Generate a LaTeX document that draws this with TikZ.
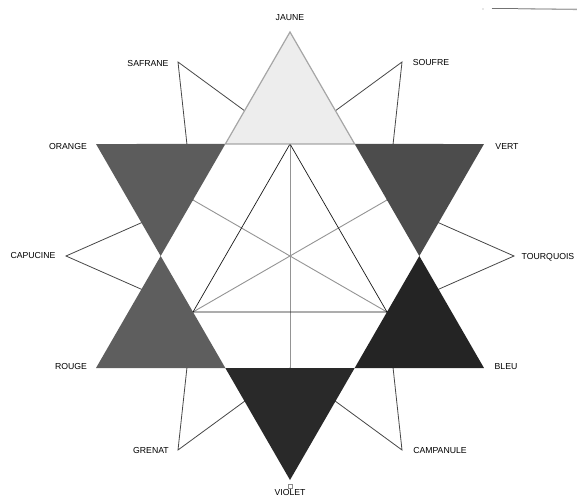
\documentclass[tikz,border=0pt]{standalone}
\usepackage{fontspec}
\setmainfont{Liberation Sans}
\begin{document}
\begin{tikzpicture}[x=1pt,y=1pt,
  lbl/.style={font=\fontsize{8.7}{9}\selectfont, inner sep=0pt, text=black},
  spoke/.style={draw=black!72, line width=0.8pt},
  median/.style={draw=black!42, line width=0.9pt},
  inner/.style={draw=black!90, line width=0.7pt},
  tri/.style={draw=none}
]
\useasboundingbox[fill=white] (-290,-242) rectangle (287,256);
% key points
\def\RR{224}
\def\rr{112}
\def\hh{129.33}
\foreach \n/\a in {tJ/90,tV/30,tO/150,tR/210,tVi/270,tB/330}
  \coordinate (\n) at (\a:\RR);
\foreach \n/\a in {h0/0,h60/60,h120/120,h180/180,h240/240,h300/300}
  \coordinate (\n) at (\a:\hh);
\foreach \n/\a in {pTu/0,pSo/60,pSa/120,pCa/180,pGr/240,pCm/300}
  \coordinate (\n) at (\a:\RR);
\foreach \n/\a in {Y/90,G/30,O/150,R/210,Vp/270,Bp/330}
  \coordinate (\n) at (\a:\rr);
\coordinate (ctr) at (0,0);
% spokes from intermediate colours
\draw[spoke] (Y) -- (pSa) -- (O);
\draw[spoke] (Y) -- (pSo) -- (G);
\draw[spoke] (G) -- (pTu) -- (Bp);
\draw[spoke] (Bp) -- (pCm) -- (Vp);
\draw[spoke] (Vp) -- (pGr) -- (R);
\draw[spoke] (R) -- (pCa) -- (O);
% inner construction
\draw[median] (O) -- (Bp);
\draw[median] (G) -- (R);
\draw[median] (Y) -- (Vp);
\draw[inner] (Y) -- (R) -- (Bp) -- cycle;
% star points
\fill[black!64] (tO) -- (h120) -- (h180) -- cycle;
\fill[black!70] (tV) -- (h0) -- (h60) -- cycle;
\fill[black!63] (tR) -- (h180) -- (h240) -- cycle;
\fill[black!86] (tB) -- (h300) -- (h0) -- cycle;
\fill[black!84] (tVi) -- (h240) -- (h300) -- cycle;
\filldraw[fill=black!7, draw=black!35, line width=1.2pt, line join=miter] (tJ) -- (h120) -- (h60) -- cycle;
% small marks
\draw[black!45, line width=0.4pt] (-2,-232) rectangle (2,-228);
\coordinate (a1) at (201.7,247.3);
\coordinate (a2) at (228,247.3);
\coordinate (a3) at (287,246.6);
\draw[black!55, line width=0.6pt] (a1) -- (a2);
\draw[black!35, line width=1.3pt] (a2) -- (a3);
\fill[black!40] (193,247) circle (0.6);
% labels
\node[lbl] (lJ) at (0,238) {JAUNE};
\node[lbl] (lSa) at (-142,192) {SAFRANE};
\node[lbl] (lSo) at (141,193) {SOUFRE};
\node[lbl] (lO) at (-222,109) {ORANGE};
\node[lbl] (lV) at (217,109) {VERT};
\node[lbl] (lCa) at (-257,0) {CAPUCINE};
\node[lbl] (lTu) at (258,-1) {TOURQUOIS};
\node[lbl] (lR) at (-219,-110) {ROUGE};
\node[lbl] (lB) at (216,-111) {BLEU};
\node[lbl] (lGr) at (-139,-194) {GRENAT};
\node[lbl] (lCm) at (150,-194) {CAMPANULE};
\node[lbl] (lVi) at (0,-236) {VIOLET};
\end{tikzpicture}
\end{document}
